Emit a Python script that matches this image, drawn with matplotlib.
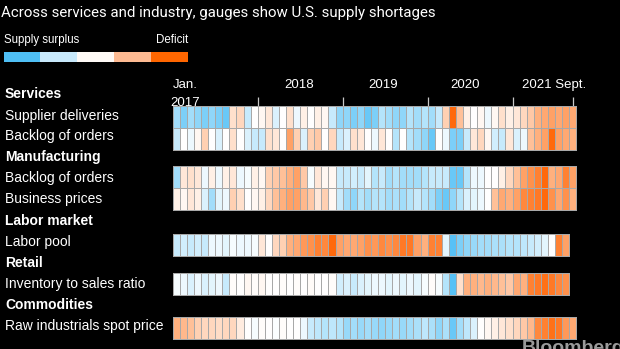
import numpy as np
import matplotlib
matplotlib.use("Agg")
import matplotlib.pyplot as plt
from matplotlib.colors import LinearSegmentedColormap

# Monthly readings, Jan. 2017 onward (negative = supply surplus, positive = deficit)
supplier_deliveries = [
    -0.5, -0.7, -0.5, -0.6, -0.7, -0.6, -0.7, -0.8, 0.2, 0.25, -0.3, 0.0, 0.05, 0.15, -0.2,
    0.0, 0.2, -0.1, 0.1, 0.0, 0.1, 0.05, -0.3, -0.6, -0.6, -0.7, -0.6, -0.8, -0.7,
    -0.4, -0.5, -0.6, -0.6, -0.4, -0.5, -0.4, -0.5, -0.3, 0.3, 0.95, 0.4, 0.1, 0.0,
    0.05, -0.1, 0.05, 0.2, 0.1, 0.15, 0.25, 0.35, 0.5, 0.55, 0.6, 0.55, 0.6, 0.55,
]
services_backlog = [
    -0.3, 0.0, -0.1, 0.05, 0.3, 0.0, -0.2, 0.0, 0.2, 0.0, -0.2, -0.3, -0.3, 0.2, 0.15,
    0.0, 0.6, 0.3, -0.2, 0.3, 0.35, 0.0, 0.25, -0.3, -0.2, 0.2, 0.15, 0.0, -0.1,
    0.15, 0.0, -0.4, 0.0, -0.4, -0.5, -0.6, -0.8, 0.0, -0.1, -0.7, -0.7, -0.3, 0.15,
    0.25, 0.05, -0.25, -0.3, 0.15, -0.2, -0.1, 0.4, 0.5, 0.6, 0.95, 0.6, 0.55, 0.5,
]
manufacturing_backlog = [
    -0.5, 0.15, 0.2, 0.15, -0.1, 0.1, -0.1, 0.1, 0.15, -0.1, -0.05, 0.1, 0.05, 0.3, 0.35,
    0.4, 0.5, 0.6, 0.35, -0.05, 0.15, 0.05, 0.05, -0.3, -0.3, -0.25, -0.3, -0.15, -0.4,
    -0.3, -0.5, -0.4, -0.5, -0.5, -0.5, -0.4, -0.3, -0.3, -0.3, -0.8, -0.8, -0.4, -0.1,
    -0.1, 0.0, 0.0, 0.1, 0.25, 0.4, 0.6, 0.7, 0.8, 0.95, 0.5, 0.55, 0.8, 0.6,
]
business_prices = [
    0.1, 0.05, 0.15, 0.1, -0.2, -0.5, -0.15, -0.1, 0.3, 0.2, 0.0, 0.05, 0.1, 0.25, 0.4,
    0.5, 0.6, 0.6, 0.45, 0.35, 0.15, 0.3, 0.05, -0.3, -0.5, -0.6, -0.4, -0.5, -0.4,
    -0.4, -0.5, -0.45, -0.5, -0.4, -0.3, -0.4, -0.5, -0.7, -0.8, -0.6, -0.4, -0.2, -0.15,
    -0.1, 0.0, 0.4, 0.55, 0.5, 0.6, 0.75, 0.8, 0.85, 0.95, 0.7, 0.55, 0.7, 0.5,
]
labor_pool = [
    -0.3, -0.25, -0.3, -0.25, -0.3, -0.1, -0.1, -0.15, -0.05, -0.1, -0.1, -0.05, 0.15, 0.0, 0.25,
    0.3, 0.5, 0.55, 0.65, 0.7, 0.8, 0.75, 0.95, 0.6, 0.55, 0.55, 0.6, 0.7, 0.65,
    0.75, 0.7, 0.75, 0.85, 0.85, 0.6, 0.5, 0.8, 0.8, -0.15, -0.9, -0.7, -0.6, -0.55,
    -0.5, -0.5, -0.45, -0.45, -0.4, -0.4, -0.35, -0.3, -0.25, -0.15, 0.0, 0.8, 0.6,
]
inventory_to_sales = [
    -0.05, -0.1, -0.2, -0.1, -0.2, -0.15, -0.1, -0.3, 0.02, 0.0, 0.05, 0.02, 0.05, 0.0, 0.0,
    0.02, 0.0, 0.02, 0.0, 0.03, 0.0, 0.0, 0.02, -0.25, -0.2, -0.3, -0.2, -0.15, -0.1,
    -0.1, -0.15, -0.1, -0.15, -0.1, -0.15, -0.05, 0.02, -0.05, -0.4, -0.9, 0.2, 0.5, 0.5,
    0.45, 0.5, 0.45, 0.4, 0.35, 0.55, 0.5, 0.8, 0.85, 0.9, 0.85, 0.75, 0.7,
]
raw_industrials = [
    0.5, 0.45, 0.4, 0.3, 0.25, 0.25, 0.22, 0.25, 0.25, 0.12, 0.0, -0.05, 0.02, 0.0, -0.02,
    0.02, 0.0, 0.0, -0.1, -0.3, -0.35, -0.4, -0.35, -0.4, -0.55, -0.5, -0.55, -0.5, -0.55,
    -0.6, -0.55, -0.5, -0.55, -0.5, -0.45, -0.35, -0.45, -0.6, -0.45, -0.8, -0.5, -0.35, -0.2,
    0.0, 0.05, 0.1, 0.15, 0.2, 0.25, 0.35, 0.45, 0.75, 0.8, 0.9, 0.85, 0.65, 0.55,
]

group_names = ["Services", "Manufacturing", "Labor market", "Retail", "Commodities"]
row_names = ["Supplier deliveries", "Backlog of orders", "Backlog of orders",
             "Business prices", "Labor pool", "Inventory to sales ratio",
             "Raw industrials spot price"]
rows = [supplier_deliveries, services_backlog, manufacturing_backlog,
        business_prices, labor_pool, inventory_to_sales, raw_industrials]
year_labels = ["2018", "2019", "2020", "2021 Sept."]
year_positions = [17.8, 29.7, 41.3, 49.3]
tick_months = [12, 24, 36, 48, 56.5]

title = "Across services and industry, gauges show U.S. supply shortages"
legend_colors = ["#4fbff5", "#c8e9fb", "#fffaf6", "#fdba92", "#ff6600"]

cmap = LinearSegmentedColormap.from_list(
    "surplus_deficit",
    [(0.0, "#45bbf5"), (0.5, "#ffffff"), (1.0, "#ff6200")],
)

W, H = 620, 349
fig = plt.figure(figsize=(W / 100, H / 100), dpi=100, facecolor="black")

# Pixel-space overlay for free text
tx = fig.add_axes([0, 0, 1, 1])
tx.set_xlim(0, W)
tx.set_ylim(H, 0)
tx.axis("off")
tx.set_facecolor("black")

# Heatmap axes: x in months, y in pixels
x0, mw = 172.7, 7.08
ax = fig.add_axes([0, 0, 1, 1])
ax.set_xlim(-x0 / mw, (W - x0) / mw)
ax.set_ylim(H, 0)
ax.axis("off")
ax.patch.set_alpha(0)

label_font = ["Liberation Sans", "DejaVu Sans"]

tx.text(1, 13.5, title, color="white", fontsize=10.8,
        family=["Roboto", "DejaVu Sans"], va="center", ha="left")

# Legend
tx.text(4, 40, "Supply surplus", color="white", fontsize=8.3, family=label_font, va="center")
tx.text(188, 40, "Deficit", color="white", fontsize=8.3, family=label_font, va="center", ha="right")
seg = (188 - 3.5) / len(legend_colors)
for i, c in enumerate(legend_colors):
    tx.add_patch(plt.Rectangle((3.5 + i * seg, 52), seg, 10, color=c, lw=0))

# Group headers and row labels
header_y = [94, 157, 221, 263, 305]
for name, y in zip(group_names, header_y):
    tx.text(5, y, name, color="white", fontsize=10, fontweight="bold",
            family=label_font, va="center")
label_y = [116, 136, 178, 199, 242, 284, 326]
for name, y in zip(row_names, label_y):
    tx.text(5, y, name, color="white", fontsize=10, family=label_font, va="center")

# Heatmap rows
row_tops = [106, 128, 166, 188, 234, 273, 317]
row_h = 22
for vals, top in zip(rows, row_tops):
    v = np.asarray(vals, dtype=float)
    ax.pcolormesh(np.arange(len(v) + 1), [top, top + row_h], v[None, :],
                  cmap=cmap, vmin=-1, vmax=1, edgecolors="#a8a8a8",
                  linewidth=0.55, zorder=3)

# Time axis labels and ticks
ax.text(0, 85, "Jan.", color="white", fontsize=9.5, family=label_font, va="center", ha="left")
ax.text(-0.3, 103.5, "2017", color="white", fontsize=9.5, family=label_font,
        va="center", ha="left", zorder=1)
for lab, xp in zip(year_labels, year_positions):
    ax.text(xp, 85, lab, color="white", fontsize=9.5, family=label_font,
            va="center", ha="center" if lab != "2021 Sept." else "left")
ax.vlines(tick_months, 96.5, 106, color="#c8c8c8", lw=0.9, zorder=2)

# Source wordmark
tx.text(522, 340, "Bloomberg", color="#9a9a9a", fontsize=14, fontweight="bold",
        family=label_font, va="top", ha="left")

fig.savefig("out.png", dpi=100, facecolor="black")
